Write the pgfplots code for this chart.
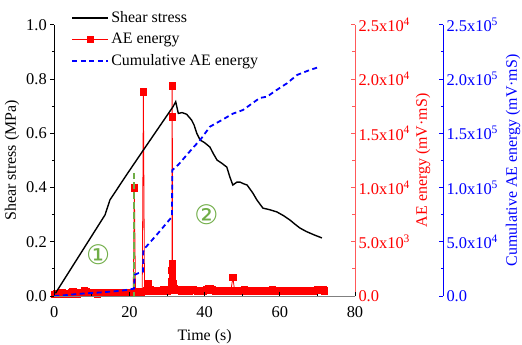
\documentclass[border=0pt]{standalone}
\usepackage{fontspec}
\setmainfont{Liberation Serif}
\newfontfamily\dejavu{DejaVu Sans}
\usepackage{pgfplots}
\usepackage{pgfplotstable}
\pgfplotsset{compat=1.18}
\definecolor{cgreen}{RGB}{112,173,71}
\newcommand{\fs}{\fontsize{16}{19}\selectfont}
\newcommand{\ft}{\fontsize{16.5}{19}\selectfont}
\pgfplotsset{
  every tick label/.append style={font=\ft},
  every axis label/.append style={font=\fs},
}

\pgfplotstableread{
t v
0.0 150
0.5 250
1.0 200
1.5 180
2.0 300
2.5 220
3.0 180
3.5 250
4.0 200
4.5 350
5.0 420
5.5 260
6.0 200
6.5 230
7.0 280
7.5 350
8.0 480
8.5 420
9.0 260
9.5 220
10.0 250
10.5 300
11.0 240
11.5 210
12.0 260
12.5 300
13.0 230
13.5 280
14.0 250
14.5 300
15.0 270
15.5 230
16.0 280
16.5 320
17.0 250
17.5 290
18.0 340
18.5 300
19.0 260
19.5 320
20.0 280
20.5 350
21.0 300
21.3 9950
21.6 420
22.0 350
22.5 400
23.0 380
23.4 420
23.7 18800
24.0 450
24.5 500
25.0 1170
25.5 600
26.0 450
26.5 500
27.0 420
27.5 460
28.0 520
28.5 480
29.0 550
29.5 500
30.0 460
30.5 520
31.0 600
31.2 1300
31.3 2350
31.35 19350
31.4 16500
31.45 3000
31.5 1800
31.7 1100
32.0 700
32.5 550
33.0 500
33.5 520
34.0 480
34.5 560
35.0 600
35.5 520
36.0 480
36.5 500
37.0 560
37.5 520
38.0 480
38.5 450
39.0 500
39.5 470
40.0 520
40.5 560
41.0 650
41.5 700
42.0 620
42.5 500
43.0 480
43.5 520
44.0 470
44.5 500
45.0 540
45.5 480
46.0 450
46.5 500
47.0 520
47.5 1700
48.0 450
48.5 500
49.0 480
49.5 440
50.0 520
50.5 600
51.0 500
51.5 470
52.0 450
52.5 500
53.0 480
53.5 520
54.0 470
54.5 450
55.0 500
55.5 480
56.0 440
56.5 520
57.0 470
57.5 500
58.0 600
58.5 520
59.0 480
59.5 450
60.0 500
60.5 470
61.0 520
61.5 480
62.0 450
62.5 500
63.0 470
63.5 440
64.0 520
64.5 490
65.0 460
65.5 500
66.0 470
66.5 450
67.0 520
67.5 480
68.0 460
68.5 500
69.0 470
69.5 520
70.0 560
70.5 500
71.0 540
71.5 600
71.8 480
}\aedata

\pgfplotstableread{
t s
0.3 0.010
13.5 0.299
14.8 0.354
19.0 0.442
23.7 0.538
27.5 0.615
31.6 0.698
32.3 0.716
33.0 0.673
34.0 0.676
35.2 0.670
36.5 0.649
37.2 0.630
37.9 0.600
38.8 0.575
40.0 0.565
41.4 0.549
42.3 0.525
43.3 0.501
44.5 0.490
45.9 0.475
46.7 0.439
47.5 0.409
48.6 0.420
49.4 0.420
50.3 0.414
51.3 0.409
52.8 0.380
53.9 0.354
55.5 0.324
57.3 0.318
59.2 0.310
61.0 0.296
62.7 0.280
64.0 0.265
65.3 0.251
67.0 0.238
69.0 0.226
71.2 0.214
}\sheardata

\pgfplotstableread{
t c
0 0
3 800
6 1800
9 2600
12 3200
15 4000
18 5000
20 6000
21.2 6800
21.3 12500
21.4 19500
22.3 21000
23.6 22400
23.7 42500
27.4 57000
31.3 73000
31.4 116000
33.0 121000
35.0 129000
37.0 137000
38.8 143700
41.4 156000
44.5 162000
47.5 168000
50.2 171400
53.9 180600
54.7 182500
56.6 183700
59.0 189500
61.9 196000
64.6 203700
68.0 208300
70.7 211300
}\cumdata

\begin{document}
\begin{tikzpicture}[font=\fs]
\path[use as bounding box] (-54.3bp,-49bp) rectangle (467.7bp,296bp);

% ---------- AE energy (red, right axis) ----------
\begin{axis}[
  at={(0,0)}, anchor=south west, scale only axis,
  width=300.7bp, height=271.3bp,
  xmin=0, xmax=80, ymin=0, ymax=25000,
  hide x axis, axis y line*=right,
  y axis line style={draw=red!65, line width=0.8bp},
  tick style={draw=red!65, line width=0.8bp},
  tick align=inside, major tick length=4bp, minor tick length=2.5bp,
  scaled y ticks=false,
  ytick={0,5000,10000,15000,20000,25000},
  minor ytick={2500,7500,12500,17500,22500},
  yticklabels={0.0,5.0x10\textsuperscript{3},1.0x10\textsuperscript{4},1.5x10\textsuperscript{4},2.0x10\textsuperscript{4},2.5x10\textsuperscript{4}},
  yticklabel style={text=red},
  ylabel={AE energy (mV·mS)},
  every axis y label/.style={at={(axis description cs:1,0.5)}, xshift=68bp, rotate=90, anchor=center, text=red, font=\fs},
]
\addplot[red, line width=0.8bp, mark=square*, mark size=3.2bp, mark options={solid}] table[x=t,y=v] {\aedata};
\end{axis}

% ---------- Shear stress (main axis) ----------
\begin{axis}[
  at={(0,0)}, anchor=south west, scale only axis,
  width=300.7bp, height=271.3bp,
  xmin=0, xmax=80, ymin=0, ymax=1,
  axis x line*=bottom, axis y line*=left,
  x axis line style={draw=gray, line width=0.8bp},
  y axis line style={draw=black, line width=0.8bp},
  tick style={draw=black, line width=0.8bp},
  xtick align=inside, ytick align=outside,
  major tick length=4bp, minor tick length=2.5bp,
  xtick={0,20,40,60,80}, minor xtick={10,30,50,70},
  xticklabels={0,20,40,60,80},
  xticklabel style={yshift=-7bp},
  ytick={0,0.2,0.4,0.6,0.8,1}, minor ytick={0.1,0.3,0.5,0.7,0.9},
  yticklabels={0.0,0.2,0.4,0.6,0.8,1.0},
  xlabel={Time (s)}, ylabel={Shear stress (MPa)},
  every axis x label/.style={at={(axis description cs:0.5,0)}, yshift=-40.5bp, anchor=center, font=\fs},
  every axis y label/.style={at={(axis description cs:0,0.5)}, xshift=-42.3bp, rotate=90, anchor=center, font=\fs},
  legend style={draw=none, fill=none, at={(axis description cs:0,1)}, anchor=north west,
    xshift=14bp, yshift=17bp, legend cell align=left, row sep=5bp, font=\fs},
  legend image code/.code={\draw[mark repeat=2,mark phase=2,#1] plot coordinates {(0bp,0bp) (18bp,0bp) (36bp,0bp)};},
]
\addplot[black, line width=1.4bp] table[x=t,y=s] {\sheardata};
\addlegendentry{Shear stress}
\addplot[cgreen, line width=1.8bp, dash pattern=on 7bp off 3bp, forget plot] coordinates {(21.3,-0.01) (21.3,0.454)};
\addlegendimage{red, line width=0.8bp, mark=square*, mark size=3.2bp}
\addlegendentry{AE energy}
\addlegendimage{blue, line width=1.8bp, dash pattern=on 5bp off 3.5bp}
\addlegendentry{Cumulative AE energy}
\node[text=cgreen, font=\dejavu\fontsize{27}{27}\selectfont] at (axis cs:11.7,0.151) {①};
\node[text=cgreen, font=\dejavu\fontsize{27}{27}\selectfont] at (axis cs:40.5,0.299) {②};
\end{axis}

% ---------- Cumulative AE energy (blue, offset right axis) ----------
\begin{axis}[
  at={(0,0)}, anchor=south west, scale only axis,
  width=388.7bp, height=271.3bp,
  xmin=0, xmax=103.41, ymin=0, ymax=250000,
  hide x axis, axis y line*=right,
  y axis line style={draw=blue, line width=0.8bp},
  tick style={draw=blue, line width=0.8bp},
  tick align=inside, major tick length=4bp, minor tick length=2.5bp,
  scaled y ticks=false,
  ytick={0,50000,100000,150000,200000,250000},
  minor ytick={25000,75000,125000,175000,225000},
  yticklabels={0.0,5.0x10\textsuperscript{4},1.0x10\textsuperscript{5},1.5x10\textsuperscript{5},2.0x10\textsuperscript{5},2.5x10\textsuperscript{5}},
  yticklabel style={text=blue},
  ylabel={Cumulative AE energy (mV·mS)},
  every axis y label/.style={at={(axis description cs:1,0.5)}, xshift=70bp, rotate=90, anchor=center, text=blue, font=\fs},
]
\addplot[blue, line width=1.8bp, dash pattern=on 5bp off 3.5bp] table[x=t,y=c] {\cumdata};
\end{axis}
\end{tikzpicture}
\end{document}
